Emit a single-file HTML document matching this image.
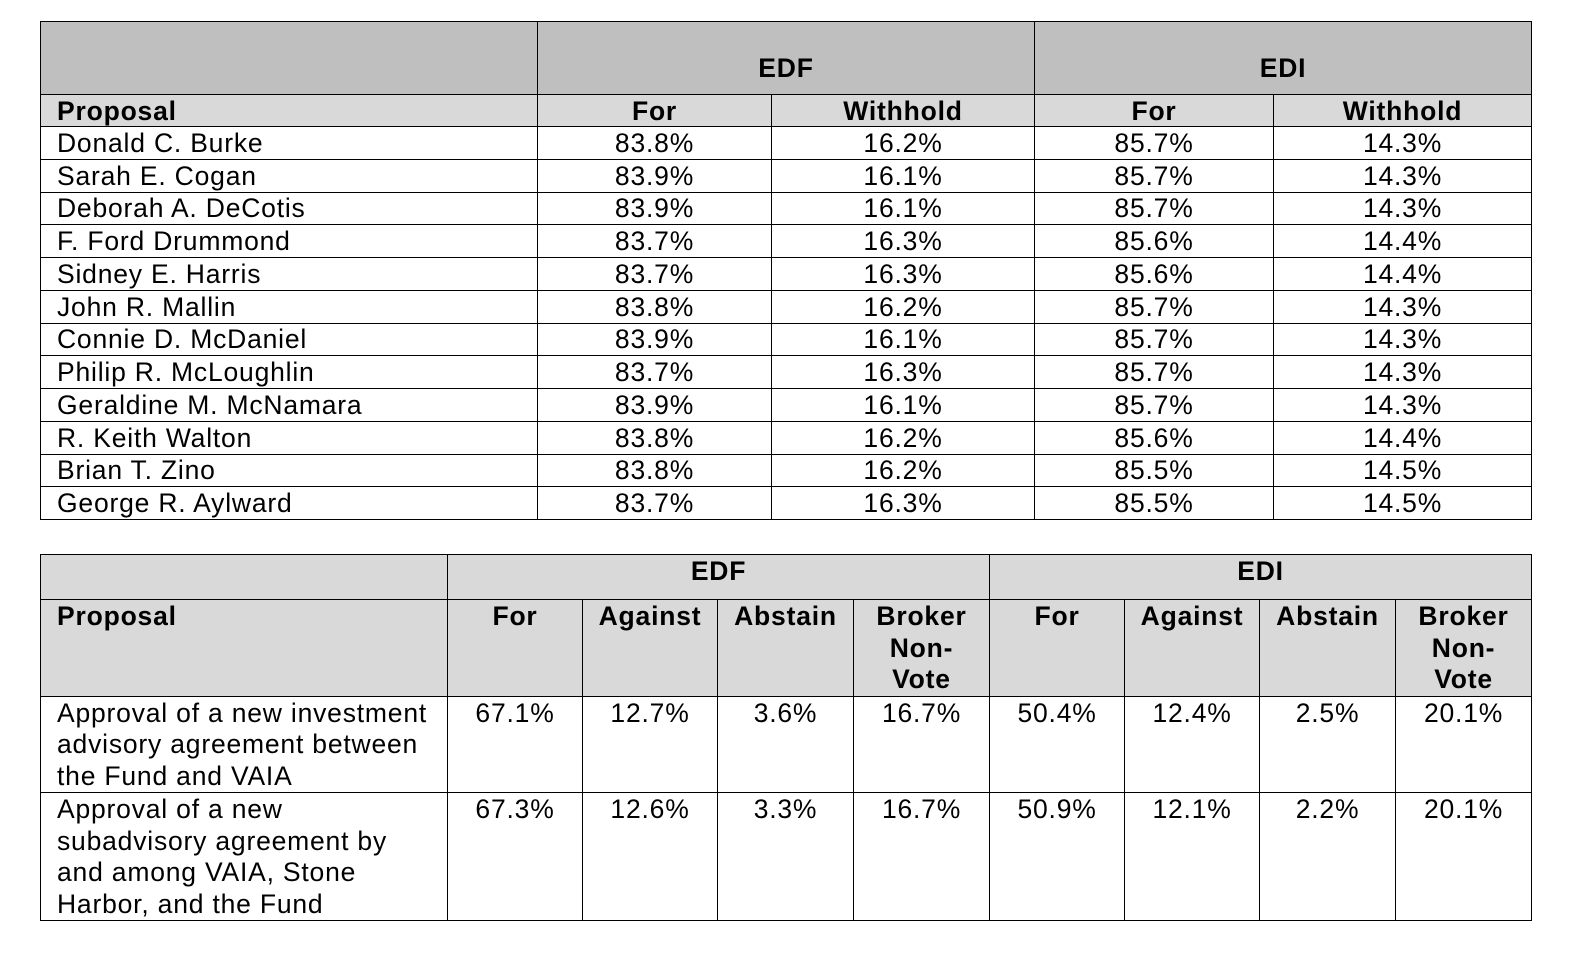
<!DOCTYPE html>
<html><head><meta charset="utf-8"><style>
body{margin:0;background:#fff;width:1590px;height:954px;position:relative;overflow:hidden;font-family:"Liberation Sans",Arial,sans-serif;color:#000;}
table{position:absolute;left:40px;border-collapse:collapse;table-layout:fixed;font-size:26.5px;letter-spacing:0.8px;}
td{border:1px solid #000;padding:0;text-align:center;white-space:nowrap;overflow:hidden;}
td.l{text-align:left;padding-left:16px;}
.b{font-weight:bold;}
#t1{top:21px;width:1491px;}
#t1 td{line-height:30px;vertical-align:middle;}
#t1 tr.d td{height:31.75px;}
#t1 tr.h1 td{background:#bfbfbf;height:61px;vertical-align:bottom;padding-bottom:11px;}
#t1 tr.h2 td{background:#d9d9d9;height:31px;}
#t2{top:554px;width:1491px;}
#t2 td{vertical-align:top;line-height:31.5px;padding-top:1px;}
#t2 tr.h td{background:#d9d9d9;}
</style></head><body>
<table id="t1">
<colgroup><col style="width:497px"><col style="width:234px"><col style="width:263px"><col style="width:239px"><col style="width:258px"></colgroup>
<tr class="h1"><td></td><td colspan="2" class="b">EDF</td><td colspan="2" class="b">EDI</td></tr>
<tr class="h2"><td class="l b">Proposal</td><td class="b">For</td><td class="b">Withhold</td><td class="b">For</td><td class="b">Withhold</td></tr>
<tr class="d"><td class="l">Donald C. Burke</td><td>83.8%</td><td>16.2%</td><td>85.7%</td><td>14.3%</td></tr>
<tr class="d"><td class="l">Sarah E. Cogan</td><td>83.9%</td><td>16.1%</td><td>85.7%</td><td>14.3%</td></tr>
<tr class="d"><td class="l">Deborah A. DeCotis</td><td>83.9%</td><td>16.1%</td><td>85.7%</td><td>14.3%</td></tr>
<tr class="d"><td class="l">F. Ford Drummond</td><td>83.7%</td><td>16.3%</td><td>85.6%</td><td>14.4%</td></tr>
<tr class="d"><td class="l">Sidney E. Harris</td><td>83.7%</td><td>16.3%</td><td>85.6%</td><td>14.4%</td></tr>
<tr class="d"><td class="l">John R. Mallin</td><td>83.8%</td><td>16.2%</td><td>85.7%</td><td>14.3%</td></tr>
<tr class="d"><td class="l">Connie D. McDaniel</td><td>83.9%</td><td>16.1%</td><td>85.7%</td><td>14.3%</td></tr>
<tr class="d"><td class="l">Philip R. McLoughlin</td><td>83.7%</td><td>16.3%</td><td>85.7%</td><td>14.3%</td></tr>
<tr class="d"><td class="l">Geraldine M. McNamara</td><td>83.9%</td><td>16.1%</td><td>85.7%</td><td>14.3%</td></tr>
<tr class="d"><td class="l">R. Keith Walton</td><td>83.8%</td><td>16.2%</td><td>85.6%</td><td>14.4%</td></tr>
<tr class="d"><td class="l">Brian T. Zino</td><td>83.8%</td><td>16.2%</td><td>85.5%</td><td>14.5%</td></tr>
<tr class="d"><td class="l">George R. Aylward</td><td>83.7%</td><td>16.3%</td><td>85.5%</td><td>14.5%</td></tr>
</table>
<table id="t2">
<colgroup><col style="width:407px"><col style="width:135px"><col style="width:135px"><col style="width:136px"><col style="width:136px"><col style="width:135px"><col style="width:135px"><col style="width:136px"><col style="width:136px"></colgroup>
<tr class="h" style="height:45px"><td></td><td colspan="4" class="b">EDF</td><td colspan="4" class="b">EDI</td></tr>
<tr class="h" style="height:96px"><td class="l b">Proposal</td><td class="b">For</td><td class="b">Against</td><td class="b">Abstain</td><td class="b">Broker<br>Non-<br>Vote</td><td class="b">For</td><td class="b">Against</td><td class="b">Abstain</td><td class="b">Broker<br>Non-<br>Vote</td></tr>
<tr style="height:95px"><td class="l">Approval of a new investment<br>advisory agreement between<br>the Fund and VAIA</td><td>67.1%</td><td>12.7%</td><td>3.6%</td><td>16.7%</td><td>50.4%</td><td>12.4%</td><td>2.5%</td><td>20.1%</td></tr>
<tr style="height:126px"><td class="l">Approval of a new<br>subadvisory agreement by<br>and among VAIA, Stone<br>Harbor, and the Fund</td><td>67.3%</td><td>12.6%</td><td>3.3%</td><td>16.7%</td><td>50.9%</td><td>12.1%</td><td>2.2%</td><td>20.1%</td></tr>
</table>
</body></html>
